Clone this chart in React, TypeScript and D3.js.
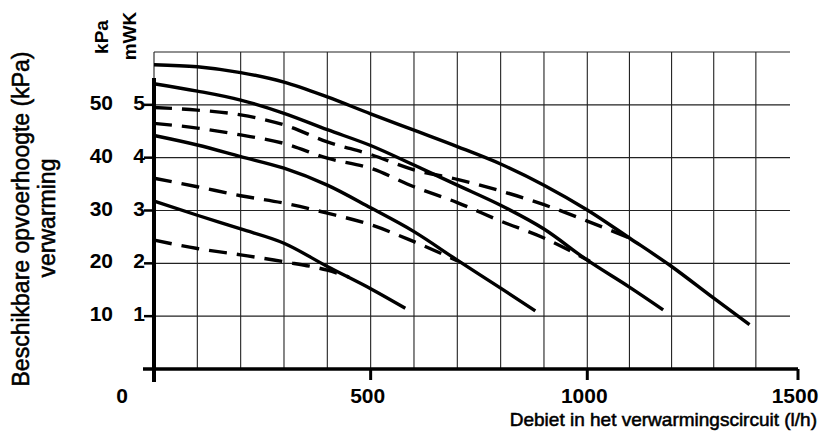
import React from "react";
import * as d3 from "d3";

// ---- data (flow l/h, head kPa) ----
const xTicks = [0, 500, 1000, 1500];
const yTicksKpa = [10, 20, 30, 40, 50];
const yTicksMwk = ["1", "2", "3", "4", "5"];
const gridX = [0, 100, 200, 300, 400, 500, 600, 700, 800, 900, 1000, 1100, 1200, 1300, 1400];
const gridY = [10, 20, 30, 40, 50, 60];

const solidA: [number, number][] = [[0, 57.6], [100, 57.2], [200, 56.1], [300, 54.3], [400, 51.5], [500, 48.3], [600, 45.2], [700, 42.1], [800, 38.8], [900, 34.8], [1000, 30.1], [1100, 24.8], [1200, 19.4], [1300, 13.4], [1385, 8.4]];
const solidB: [number, number][] = [[0, 54], [100, 52.6], [200, 50.9], [300, 48.4], [400, 45.3], [500, 42.3], [600, 38.6], [700, 34.8], [800, 31], [900, 26.5], [1000, 20.6], [1100, 15.5], [1180, 11.2]];
const solidC: [number, number][] = [[0, 44.2], [100, 42.4], [200, 40.2], [300, 38], [400, 34.8], [500, 30.5], [600, 26], [700, 20.6], [800, 15.3], [880, 11]];
const solidE: [number, number][] = [[0, 31.8], [100, 29.1], [200, 26.5], [300, 23.8], [400, 19.4], [500, 15.2], [580, 11.5]];
const dashed1: [number, number][] = [[0, 49.5], [100, 49], [200, 48.1], [300, 46.2], [400, 43], [500, 40.6], [600, 37.7], [700, 35.9], [800, 33.7], [900, 31.1], [1000, 28], [1100, 24.8]];
const dashed2: [number, number][] = [[0, 46.5], [100, 45.6], [200, 44.3], [300, 42.7], [400, 39.9], [500, 38], [600, 34.5], [700, 31.5], [800, 28], [900, 24.8], [1006, 20.4]];
const dashed3: [number, number][] = [[0, 36.1], [100, 34.5], [200, 32.8], [300, 31.4], [400, 29.5], [500, 27.3], [600, 24.1], [700, 20.5]];
const dashed4: [number, number][] = [[0, 24.4], [100, 22.8], [200, 21.6], [300, 20.3], [400, 18.7], [450, 17.4]];

const solidSeries = [solidA, solidB, solidC, solidE];
const dashedSeries = [dashed1, dashed2, dashed3, dashed4];

const xTitle = "Debiet in het verwarmingscircuit (l/h)";
const yTitle1 = "Beschikbare opvoerhoogte (kPa)";
const yTitle2 = "verwarming";

export default function App() {
  const W = 821, H = 437;
  const x = d3.scaleLinear().domain([0, 1000, 1500]).range([154, 587.3, 798]);
  const y = d3.scaleLinear().domain([0, 60]).range([369, 52]);
  const gridRight = 790;
  const line = d3.line<[number, number]>().x(d => x(d[0])).y(d => y(d[1])).curve(d3.curveMonotoneX);
  const font = "'Liberation Sans', Arial, sans-serif";
  const titleStroke = { stroke: "#000", strokeWidth: 0.55 };

  return (
    <svg width={W} height={H} style={{ position: "absolute", left: 0, top: 0, background: "#fff" }} fontFamily={font}>
      <rect x={0} y={0} width={W} height={H} fill="#fff" />
      {/* grid */}
      <g stroke="#222" strokeWidth={1.1}>
        {gridX.map(v => (
          <line key={"gx" + v} x1={x(v)} x2={x(v)} y1={y(0)} y2={y(60)} />
        ))}
        {gridY.map(v => (
          <line key={"gy" + v} x1={x(0)} x2={gridRight} y1={y(v)} y2={y(v)} />
        ))}
      </g>
      {/* axes */}
      <line x1={x(0)} x2={x(0)} y1={y(55.1)} y2={y(0) + 13} stroke="#000" strokeWidth={4} />
      <line x1={143} x2={x(1500)} y1={y(0)} y2={y(0)} stroke="#000" strokeWidth={3.4} />
      {xTicks.slice(1).map(v => (
        <line key={"xt" + v} x1={x(v)} x2={x(v)} y1={y(0)} y2={y(0) + 11} stroke="#000" strokeWidth={3} />
      ))}
      {yTicksKpa.map(v => (
        <line key={"yt" + v} x1={144} x2={x(0)} y1={y(v)} y2={y(v)} stroke="#000" strokeWidth={2.5} />
      ))}
      {/* curves */}
      <g fill="none" stroke="#000" strokeWidth={3.4}>
        {solidSeries.map((s, i) => (
          <path key={"s" + i} d={line(s) || ""} />
        ))}
        {dashedSeries.map((s, i) => (
          <path key={"d" + i} d={line(s) || ""} strokeDasharray="18 10" />
        ))}
      </g>
      {/* y tick labels */}
      <g fontWeight="bold" fontSize={21} fill="#000">
        {yTicksKpa.map(v => (
          <text key={"yl" + v} x={113} y={y(v) + 5} textAnchor="end">{v}</text>
        ))}
        {yTicksMwk.map((v, i) => (
          <text key={"ym" + v} x={145} y={y(yTicksKpa[i]) + 5} textAnchor="end">{v}</text>
        ))}
      </g>
      {/* x tick labels */}
      <g fontWeight="bold" fontSize={21} fill="#000" textAnchor="middle">
        {xTicks.map(v => (
          <text key={"xl" + v} x={v === 0 ? 122 : x(v) - 3} y={403}>{v}</text>
        ))}
      </g>
      {/* titles */}
      <text x={817} y={426} textAnchor="end" fontSize={19} fill="#000" {...titleStroke}>{xTitle}</text>
      <text transform={`translate(28.5,219) rotate(-90)`} textAnchor="middle" fontSize={23} fill="#000" {...titleStroke}>{yTitle1}</text>
      <text transform={`translate(55,218) rotate(-90)`} textAnchor="middle" fontSize={23} fill="#000" {...titleStroke}>{yTitle2}</text>
      <text transform={`translate(108,37) rotate(-90)`} textAnchor="middle" fontSize={19} fontWeight="bold" fill="#000">kPa</text>
      <text transform={`translate(136,36) rotate(-90)`} textAnchor="middle" fontSize={19} fontWeight="bold" fill="#000">mWK</text>
    </svg>
  );
}
